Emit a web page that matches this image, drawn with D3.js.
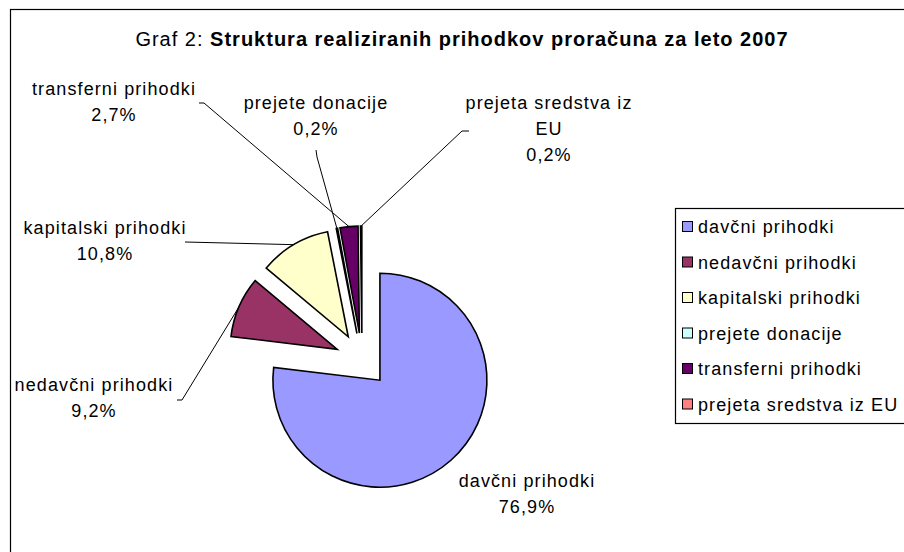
<!DOCTYPE html>
<html>
<head>
<meta charset="utf-8">
<script src="https://cdn.jsdelivr.net/npm/d3@7"></script>
<style>
  body { margin: 0; background: #fff; }
  svg { display: block; font-family: "Liberation Sans", Arial, sans-serif; }
</style>
</head>
<body>
<script>
const width = 904, height = 552;

// chart data
const categories = ["davčni prihodki", "nedavčni prihodki", "kapitalski prihodki",
                    "prejete donacije", "transferni prihodki", "prejeta sredstva iz EU"];
const shares = [76.9, 9.2, 10.8, 0.2, 2.7, 0.2];
const colors = ["#9999FF", "#993366", "#FFFFCC", "#CCFFFF", "#660066", "#FF8080"];

// where each data label sits (lines of text, centre x, first baseline, leader start)
const labelLines = [
  ["davčni prihodki"], ["nedavčni prihodki"], ["kapitalski prihodki"],
  ["prejete donacije"], ["transferni prihodki"], ["prejeta sredstva iz", "EU"]
];
const labelLayout = [
  {x: 527, y: 487, leader: null},
  {x: 94,  y: 391, leader: [[177, 400], [182, 400]]},
  {x: 105, y: 234, leader: [[185, 242]]},
  {x: 316, y: 109, leader: [[316, 150], [317, 157]]},
  {x: 114, y: 95,  leader: [[199, 103], [204, 103]]},
  {x: 549, y: 109, leader: [[469, 131], [462, 131]]}
];

const cx = 362, cy = 360, radius = 107, explode = 27;
const fmt = v => d3.format(".1f")(v).replace(".", ",") + "%";

const svg = d3.select("body").append("svg")
    .attr("width", width)
    .attr("height", height);

svg.append("rect")
    .attr("x", 10.5).attr("y", 9.5)
    .attr("width", 1000).attr("height", 1000)
    .attr("fill", "#fff")
    .attr("stroke", "#000")
    .attr("stroke-width", 1.2);

// title
const title = svg.append("text")
    .attr("x", 462)
    .attr("y", 46)
    .attr("text-anchor", "middle")
    .style("font-size", "20px")
    .style("letter-spacing", "1px");
title.append("tspan").text("Graf 2: ");
title.append("tspan").attr("font-weight", "bold").text("Struktura realiziranih prihodkov proračuna za leto 2007");

const pie = d3.pie().sort(null).value(d => d)(shares);
const arc = d3.arc().innerRadius(0).outerRadius(radius);

// offset of each exploded slice
const offset = d => {
  const a = (d.startAngle + d.endAngle) / 2;
  return [Math.sin(a) * explode, -Math.cos(a) * explode];
};

// leader lines
const leaderG = svg.append("g")
    .attr("fill", "none")
    .attr("stroke", "#000")
    .attr("stroke-width", 1);

pie.forEach((d, i) => {
  const lay = labelLayout[i];
  if (!lay.leader) return;
  const a = (d.startAngle + d.endAngle) / 2;
  const o = offset(d);
  const end = [cx + o[0] + Math.sin(a) * radius, cy + o[1] - Math.cos(a) * radius];
  leaderG.append("path")
      .attr("d", d3.line()(lay.leader.concat([end])));
});

// slices
svg.append("g")
  .selectAll("path")
  .data(pie)
  .join("path")
    .attr("transform", d => {
      const o = offset(d);
      return `translate(${cx + o[0]},${cy + o[1]})`;
    })
    .attr("d", arc)
    .attr("fill", (d, i) => colors[i])
    .attr("stroke", "#000")
    .attr("stroke-width", 1.6)
    .attr("stroke-linejoin", "miter");

// data labels
const labels = svg.append("g")
    .style("font-size", "18px")
    .style("letter-spacing", "1.1px")
    .attr("fill", "#000")
    .attr("text-anchor", "middle");

pie.forEach((d, i) => {
  const lay = labelLayout[i];
  const lines = labelLines[i].concat([fmt(shares[i])]);
  const t = labels.append("text").attr("x", lay.x).attr("y", lay.y);
  lines.forEach((l, j) => {
    t.append("tspan").attr("x", lay.x).attr("dy", j === 0 ? 0 : 26).text(l);
  });
});

// legend
const legend = svg.append("g").attr("transform", "translate(675,208)");
legend.append("rect")
    .attr("x", 0.5).attr("y", 0.5)
    .attr("width", 300).attr("height", 215)
    .attr("fill", "#fff")
    .attr("stroke", "#000")
    .attr("stroke-width", 1.2);

const item = legend.selectAll("g.item")
  .data(categories)
  .join("g")
    .attr("class", "item")
    .attr("transform", (d, i) => `translate(0,${19 + i * 35.5})`);

item.append("rect")
    .attr("x", 7.5).attr("y", -5.5)
    .attr("width", 10).attr("height", 10)
    .attr("fill", (d, i) => colors[i])
    .attr("stroke", "#000")
    .attr("stroke-width", 1);

item.append("text")
    .attr("x", 23)
    .attr("y", 6)
    .style("font-size", "18px")
    .style("letter-spacing", "1.1px")
    .text(d => d);
</script>
</body>
</html>
